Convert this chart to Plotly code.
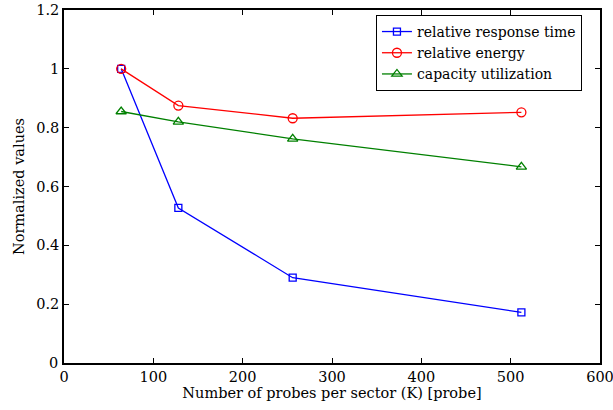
import plotly.graph_objects as go

x_vals = [64, 128, 256, 512]
response_time = [1.0, 0.527, 0.29, 0.172]
energy = [1.0, 0.875, 0.832, 0.852]
capacity = [0.855, 0.82, 0.762, 0.667]

x_ticks = [0, 100, 200, 300, 400, 500, 600]
y_ticks = [0, 0.2, 0.4, 0.6, 0.8, 1, 1.2]
y_ticklabels = ["0", "0.2", "0.4", "0.6", "0.8", "1", "1.2"]

font_family = "DejaVu Serif"

fig = go.Figure()
fig.add_trace(go.Scatter(x=x_vals, y=response_time, mode="lines+markers",
                         name="relative response time",
                         line=dict(color="blue", width=1.3),
                         marker=dict(symbol="square-open", size=7, color="blue", line=dict(width=1.3))))
fig.add_trace(go.Scatter(x=x_vals, y=energy, mode="lines+markers",
                         name="relative energy",
                         line=dict(color="red", width=1.3),
                         marker=dict(symbol="circle-open", size=9, color="red", line=dict(width=1.3))))
fig.add_trace(go.Scatter(x=x_vals, y=capacity, mode="lines+markers",
                         name="capacity utilization",
                         line=dict(color="green", width=1.3),
                         marker=dict(symbol="triangle-up-open", size=9, color="green", line=dict(width=1.3))))

axis_common = dict(showline=True, linecolor="black", linewidth=1.5, mirror="allticks",
                   ticks="inside", ticklen=5, tickcolor="black", showgrid=False, zeroline=False,
                   automargin=False, ticklabeloverflow="allow",
                   tickfont=dict(family=font_family, size=14.5, color="black"))

fig.update_layout(
    width=613, height=410,
    margin=dict(l=64, r=13, t=10, b=47),
    plot_bgcolor="white", paper_bgcolor="white",
    font=dict(family=font_family, size=15, color="black"),
    xaxis=dict(range=[0, 600], tickvals=x_ticks,
               title=dict(text="Number of probes per sector (K) [probe]", font=dict(family=font_family, size=14.5), standoff=0),
               **axis_common),
    yaxis=dict(range=[0, 1.2], tickvals=y_ticks[1:], ticktext=y_ticklabels[1:],
               title=dict(text="Normalized values", font=dict(family=font_family, size=14.5), standoff=8),
               **axis_common),
    legend=dict(x=0.582, y=0.986, xanchor="left", yanchor="top",
                bordercolor="black", borderwidth=1, bgcolor="white",
                font=dict(family=font_family, size=14), tracegroupgap=0, itemwidth=30),
    showlegend=True,
)

# label for the lowest y tick (kept as real text, positioned by the y axis scale)
fig.add_annotation(x=0, xref="paper", xanchor="right", xshift=-4,
                   y=y_ticks[0], yref="y", yanchor="middle",
                   text=y_ticklabels[0], showarrow=False,
                   font=dict(family=font_family, size=14.5, color="black"))

fig.write_html("out.html")
